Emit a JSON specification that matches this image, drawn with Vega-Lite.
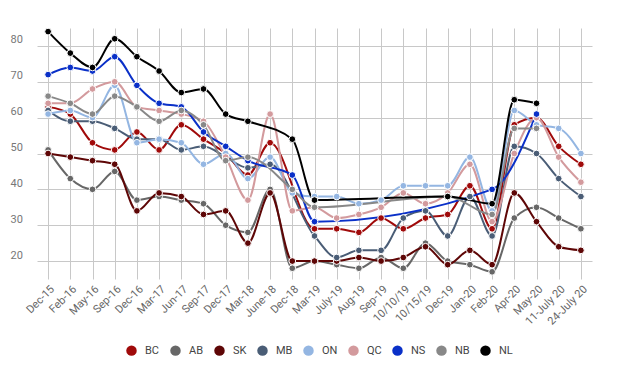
{
  "$schema": "https://vega.github.io/schema/vega-lite/v6.json",
  "width": 593,
  "height": 251,
  "autosize": {"type": "none"},
  "padding": {"left": 10, "top": 28, "right": 21, "bottom": 97},
  "background": "white",
  "config": {"view": {"stroke": null}, "font": "Roboto"},
  "data": {"values": [
    {"d":"Dec-15","s":"BC","v":63},{"d":"Feb-16","s":"BC","v":61},{"d":"May-16","s":"BC","v":53},{"d":"Sep-16","s":"BC","v":51},{"d":"Dec-16","s":"BC","v":56},{"d":"Mar-17","s":"BC","v":51},{"d":"Jun-17","s":"BC","v":58},{"d":"Sep-17","s":"BC","v":54},{"d":"Dec-17","s":"BC","v":50},{"d":"Mar-18","s":"BC","v":44},{"d":"June-18","s":"BC","v":53},{"d":"Mar-19","s":"BC","v":29},{"d":"July-19","s":"BC","v":29},{"d":"Aug-19","s":"BC","v":28},{"d":"Sep-19","s":"BC","v":32},{"d":"10/10/19","s":"BC","v":29},{"d":"10/15/19","s":"BC","v":32},{"d":"Dec-19","s":"BC","v":33},{"d":"Jan-20","s":"BC","v":41},{"d":"Feb-20","s":"BC","v":29},{"d":"Apr-20","s":"BC","v":58},{"d":"May-20","s":"BC","v":60},{"d":"11-July 20","s":"BC","v":52},{"d":"24-July 20","s":"BC","v":47},
    {"d":"Dec-15","s":"AB","v":51},{"d":"Feb-16","s":"AB","v":43},{"d":"May-16","s":"AB","v":40},{"d":"Sep-16","s":"AB","v":45},{"d":"Dec-16","s":"AB","v":37},{"d":"Mar-17","s":"AB","v":38},{"d":"Jun-17","s":"AB","v":37},{"d":"Sep-17","s":"AB","v":36},{"d":"Dec-17","s":"AB","v":30},{"d":"Mar-18","s":"AB","v":28},{"d":"June-18","s":"AB","v":40},{"d":"Dec-18","s":"AB","v":18},{"d":"Mar-19","s":"AB","v":20},{"d":"July-19","s":"AB","v":19},{"d":"Aug-19","s":"AB","v":18},{"d":"Sep-19","s":"AB","v":21},{"d":"10/10/19","s":"AB","v":18},{"d":"10/15/19","s":"AB","v":25},{"d":"Dec-19","s":"AB","v":20},{"d":"Jan-20","s":"AB","v":19},{"d":"Feb-20","s":"AB","v":17},{"d":"Apr-20","s":"AB","v":32},{"d":"May-20","s":"AB","v":35},{"d":"11-July 20","s":"AB","v":32},{"d":"24-July 20","s":"AB","v":29},
    {"d":"Dec-15","s":"SK","v":50},{"d":"Feb-16","s":"SK","v":49},{"d":"May-16","s":"SK","v":48},{"d":"Sep-16","s":"SK","v":47},{"d":"Dec-16","s":"SK","v":34},{"d":"Mar-17","s":"SK","v":39},{"d":"Jun-17","s":"SK","v":38},{"d":"Sep-17","s":"SK","v":33},{"d":"Dec-17","s":"SK","v":34},{"d":"Mar-18","s":"SK","v":25},{"d":"June-18","s":"SK","v":39},{"d":"Dec-18","s":"SK","v":20},{"d":"Mar-19","s":"SK","v":20},{"d":"July-19","s":"SK","v":20},{"d":"Aug-19","s":"SK","v":21},{"d":"Sep-19","s":"SK","v":20},{"d":"10/10/19","s":"SK","v":21},{"d":"10/15/19","s":"SK","v":24},{"d":"Dec-19","s":"SK","v":19},{"d":"Jan-20","s":"SK","v":23},{"d":"Feb-20","s":"SK","v":19},{"d":"Apr-20","s":"SK","v":39},{"d":"May-20","s":"SK","v":31},{"d":"11-July 20","s":"SK","v":24},{"d":"24-July 20","s":"SK","v":23},
    {"d":"Dec-15","s":"MB","v":62},{"d":"Feb-16","s":"MB","v":59},{"d":"May-16","s":"MB","v":59},{"d":"Sep-16","s":"MB","v":57},{"d":"Dec-16","s":"MB","v":54},{"d":"Mar-17","s":"MB","v":54},{"d":"Jun-17","s":"MB","v":51},{"d":"Sep-17","s":"MB","v":52},{"d":"Dec-17","s":"MB","v":49},{"d":"Mar-18","s":"MB","v":46},{"d":"June-18","s":"MB","v":47},{"d":"Mar-19","s":"MB","v":27},{"d":"July-19","s":"MB","v":21},{"d":"Aug-19","s":"MB","v":23},{"d":"Sep-19","s":"MB","v":23},{"d":"10/10/19","s":"MB","v":32},{"d":"10/15/19","s":"MB","v":34},{"d":"Dec-19","s":"MB","v":27},{"d":"Jan-20","s":"MB","v":38},{"d":"Feb-20","s":"MB","v":27},{"d":"Apr-20","s":"MB","v":52},{"d":"May-20","s":"MB","v":50},{"d":"11-July 20","s":"MB","v":43},{"d":"24-July 20","s":"MB","v":38},
    {"d":"Dec-15","s":"ON","v":61},{"d":"Feb-16","s":"ON","v":62},{"d":"May-16","s":"ON","v":60},{"d":"Sep-16","s":"ON","v":69},{"d":"Dec-16","s":"ON","v":53},{"d":"Mar-17","s":"ON","v":54},{"d":"Jun-17","s":"ON","v":53},{"d":"Sep-17","s":"ON","v":47},{"d":"Dec-17","s":"ON","v":50},{"d":"Mar-18","s":"ON","v":43},{"d":"June-18","s":"ON","v":49},{"d":"Dec-18","s":"ON","v":39},{"d":"Mar-19","s":"ON","v":38},{"d":"July-19","s":"ON","v":38},{"d":"Aug-19","s":"ON","v":36},{"d":"Sep-19","s":"ON","v":37},{"d":"10/10/19","s":"ON","v":41},{"d":"10/15/19","s":"ON","v":41},{"d":"Dec-19","s":"ON","v":41},{"d":"Jan-20","s":"ON","v":49},{"d":"Feb-20","s":"ON","v":34},{"d":"Apr-20","s":"ON","v":62},{"d":"May-20","s":"ON","v":58},{"d":"11-July 20","s":"ON","v":57},{"d":"24-July 20","s":"ON","v":50},
    {"d":"Dec-15","s":"QC","v":64},{"d":"Feb-16","s":"QC","v":64},{"d":"May-16","s":"QC","v":68},{"d":"Sep-16","s":"QC","v":70},{"d":"Dec-16","s":"QC","v":63},{"d":"Mar-17","s":"QC","v":62},{"d":"Jun-17","s":"QC","v":61},{"d":"Sep-17","s":"QC","v":59},{"d":"Dec-17","s":"QC","v":49},{"d":"Mar-18","s":"QC","v":37},{"d":"June-18","s":"QC","v":61},{"d":"Dec-18","s":"QC","v":34},{"d":"Mar-19","s":"QC","v":35},{"d":"July-19","s":"QC","v":32},{"d":"Aug-19","s":"QC","v":33},{"d":"Sep-19","s":"QC","v":35},{"d":"10/10/19","s":"QC","v":39},{"d":"10/15/19","s":"QC","v":36},{"d":"Dec-19","s":"QC","v":39},{"d":"Jan-20","s":"QC","v":47},{"d":"Feb-20","s":"QC","v":31},{"d":"Apr-20","s":"QC","v":50},{"d":"May-20","s":"QC","v":60},{"d":"11-July 20","s":"QC","v":49},{"d":"24-July 20","s":"QC","v":42},
    {"d":"Dec-15","s":"NS","v":72},{"d":"Feb-16","s":"NS","v":74},{"d":"May-16","s":"NS","v":73},{"d":"Sep-16","s":"NS","v":77},{"d":"Dec-16","s":"NS","v":69},{"d":"Mar-17","s":"NS","v":64},{"d":"Jun-17","s":"NS","v":63},{"d":"Sep-17","s":"NS","v":56},{"d":"Dec-17","s":"NS","v":52},{"d":"Mar-18","s":"NS","v":48},{"d":"Dec-18","s":"NS","v":44},{"d":"Mar-19","s":"NS","v":31},{"d":"Feb-20","s":"NS","v":40},{"d":"May-20","s":"NS","v":61},
    {"d":"Dec-15","s":"NB","v":66},{"d":"Feb-16","s":"NB","v":64},{"d":"May-16","s":"NB","v":61},{"d":"Sep-16","s":"NB","v":66},{"d":"Dec-16","s":"NB","v":63},{"d":"Mar-17","s":"NB","v":59},{"d":"Jun-17","s":"NB","v":62},{"d":"Sep-17","s":"NB","v":58},{"d":"Dec-17","s":"NB","v":48},{"d":"Mar-18","s":"NB","v":49},{"d":"Dec-18","s":"NB","v":40},{"d":"Mar-19","s":"NB","v":35},{"d":"Dec-19","s":"NB","v":38},{"d":"Feb-20","s":"NB","v":33},{"d":"Apr-20","s":"NB","v":57},{"d":"May-20","s":"NB","v":57},
    {"d":"Dec-15","s":"NL","v":84},{"d":"Feb-16","s":"NL","v":78},{"d":"May-16","s":"NL","v":74},{"d":"Sep-16","s":"NL","v":82},{"d":"Dec-16","s":"NL","v":77},{"d":"Mar-17","s":"NL","v":73},{"d":"Jun-17","s":"NL","v":67},{"d":"Sep-17","s":"NL","v":68},{"d":"Dec-17","s":"NL","v":61},{"d":"Mar-18","s":"NL","v":59},{"d":"Dec-18","s":"NL","v":54},{"d":"Mar-19","s":"NL","v":37},{"d":"Dec-19","s":"NL","v":38},{"d":"Feb-20","s":"NL","v":36},{"d":"Apr-20","s":"NL","v":65},{"d":"May-20","s":"NL","v":64}
  ]},
  "encoding": {
    "x": {"field": "d", "type": "nominal", "title": null,
      "scale": {"type": "point", "range": [27, 582], "domain": ["Dec-15","Feb-16","May-16","Sep-16","Dec-16","Mar-17","Jun-17","Sep-17","Dec-17","Mar-18","June-18","Dec-18","Mar-19","July-19","Aug-19","Sep-19","10/10/19","10/15/19","Dec-19","Jan-20","Feb-20","Apr-20","May-20","11-July 20","24-July 20"]},
      "axis": {"grid": true, "gridColor": "#c8c8c8", "domain": false, "ticks": false, "labelAngle": -45, "labelAlign": "right", "labelBaseline": "top", "labelPadding": 4, "labelFontSize": 11, "labelColor": "#666666"}},
    "y": {"field": "v", "type": "quantitative", "title": null,
      "scale": {"domain": [15, 85], "nice": false, "zero": false},
      "axis": {"values": [20, 30, 40, 50, 60, 70, 80], "grid": true, "gridColor": "#c8c8c8", "domain": false, "ticks": false, "labelAlign": "left", "labelBaseline": "bottom", "labelPadding": 0, "labelOffset": -1, "labelFontSize": 11, "labelColor": "#777777"}},
    "color": {"field": "s", "type": "nominal", "title": null,
      "scale": {"domain": ["BC","AB","SK","MB","ON","QC","NS","NB","NL"], "range": ["#a00a0a","#676767","#5e0606","#4a5d76","#94b6e2","#d39a9d","#0a30c8","#888888","#000000"]},
      "legend": {"orient": "none", "legendX": 116, "legendY": 317, "direction": "horizontal", "symbolType": "circle", "symbolSize": 110, "symbolStrokeWidth": 0, "symbolOpacity": 1, "labelFontSize": 11, "labelColor": "#444444", "columnPadding": 10, "labelOffset": 8, "padding": 0}}
  },
  "layer": [
    {"mark": {"type": "line", "interpolate": "monotone", "strokeWidth": 2}},
    {"mark": {"type": "point", "filled": true, "size": 45, "stroke": "white", "strokeWidth": 1, "opacity": 1}}
  ]
}
